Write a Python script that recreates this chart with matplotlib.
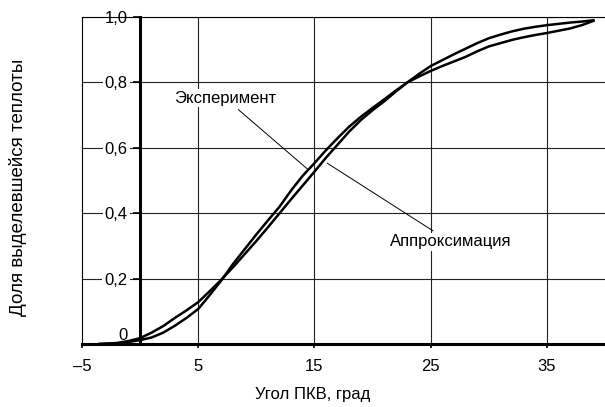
import matplotlib.pyplot as plt

plt.rcParams["font.family"] = ["Liberation Sans", "DejaVu Sans"]

# crank angle (deg) and heat release fraction
exp_x = [-3.5, -2, -1, 0, 1, 2, 3, 4, 5, 6, 7, 8, 9, 10, 11, 12, 13, 14, 15,
         16, 17, 18, 19, 20, 21, 22, 23, 24, 25, 26, 27, 28, 29, 30, 31, 32,
         33, 34, 35, 36, 37, 38, 39]
exp_y = [0.0, 0.002, 0.006, 0.012, 0.02, 0.035, 0.056, 0.08, 0.107, 0.15,
         0.195, 0.245, 0.29, 0.335, 0.378, 0.42, 0.47, 0.515, 0.553, 0.593,
         0.63, 0.665, 0.695, 0.722, 0.748, 0.775, 0.8, 0.818, 0.835, 0.85,
         0.864, 0.878, 0.895, 0.91, 0.92, 0.93, 0.938, 0.945, 0.951, 0.958,
         0.965, 0.975, 0.988]

apx_x = [-3.5, -2, -1, 0, 1, 2, 3, 4, 5, 6, 7, 8, 9, 10, 11, 12, 13, 14, 15,
         16, 17, 18, 19, 20, 21, 22, 23, 24, 25, 26, 27, 28, 29, 30, 31, 32,
         33, 34, 35, 36, 37, 38, 39]
apx_y = [0.0, 0.003, 0.009, 0.018, 0.035, 0.055, 0.08, 0.103, 0.128, 0.162,
         0.197, 0.235, 0.275, 0.315, 0.357, 0.4, 0.443, 0.485, 0.527, 0.57,
         0.61, 0.65, 0.685, 0.715, 0.742, 0.772, 0.8, 0.826, 0.85, 0.868,
         0.886, 0.903, 0.92, 0.935, 0.946, 0.956, 0.964, 0.97, 0.975, 0.979,
         0.983, 0.986, 0.99]

x_ticks = [-5, 5, 15, 25, 35]
x_labels = ["\u20135", "5", "15", "25", "35"]
y_ticks = [0.2, 0.4, 0.6, 0.8, 1.0]
y_labels = ["0,2", "0,4", "0,6", "0,8", "1,0"]

fig = plt.figure(figsize=(6.05, 4.07), dpi=100)
ax = fig.add_axes([82 / 605, 1 - 344 / 407, 1 - 82 / 605, (344 - 17) / 407])

ax.set_xlim(-5, 40)
ax.set_ylim(0, 1)

# grid
for gx in x_ticks[1:]:
    ax.axvline(gx, color="#222222", lw=0.8, zorder=1)
for gy in y_ticks:
    ax.axhline(gy, color="#222222", lw=0.8, zorder=1)

ax.plot(exp_x, exp_y, color="black", lw=1.8, zorder=3)
ax.plot(apx_x, apx_y, color="black", lw=1.8, zorder=3)

# frame: thin left/top, thick axis at y=0 and x=0
ax.spines["right"].set_visible(False)
ax.spines["top"].set_linewidth(0.8)
ax.spines["bottom"].set_linewidth(2.2)
ax.spines["left"].set_position(("data", 0))
ax.spines["left"].set_linewidth(2.2)
ax.spines["left"].set_bounds(0, 1)
ax.axvline(-5, color="black", lw=0.8, zorder=2, clip_on=False)

ax.set_xticks(x_ticks, x_labels)
ax.set_yticks(y_ticks, y_labels)
ax.tick_params(axis="x", direction="out", length=3, width=1.2, pad=8, labelsize=12)
ax.tick_params(axis="y", direction="out", length=5, width=1.2, pad=4, labelsize=12)
for lbl in ax.get_yticklabels():
    lbl.set_bbox(dict(facecolor="white", edgecolor="none", pad=1.5))
ax.text(-1.1, 0.004, "0", ha="right", va="bottom", fontsize=12)

ax.annotate("Эксперимент", xy=(14.4, 0.535), xytext=(7.3, 0.752),
            ha="center", va="center", fontsize=12,
            bbox=dict(facecolor="white", edgecolor="none", pad=1),
            arrowprops=dict(arrowstyle="-", color="black", lw=0.7,
                            shrinkA=3, shrinkB=0), zorder=4)
ax.annotate("Аппроксимация", xy=(16.1, 0.553), xytext=(26.7, 0.312),
            ha="center", va="center", fontsize=12,
            bbox=dict(facecolor="white", edgecolor="none", pad=1),
            arrowprops=dict(arrowstyle="-", color="black", lw=0.7,
                            shrinkA=3, shrinkB=0), zorder=4)

fig.text(313 / 605, 1 - 395 / 407, "Угол ПКВ, град", ha="center", va="center",
         fontsize=12)
fig.text(18 / 605, 1 - 187 / 407, "Доля выделевшейся теплоты", ha="center",
         va="center", rotation=90, fontsize=13.5)

fig.savefig("out.png", dpi=100)
